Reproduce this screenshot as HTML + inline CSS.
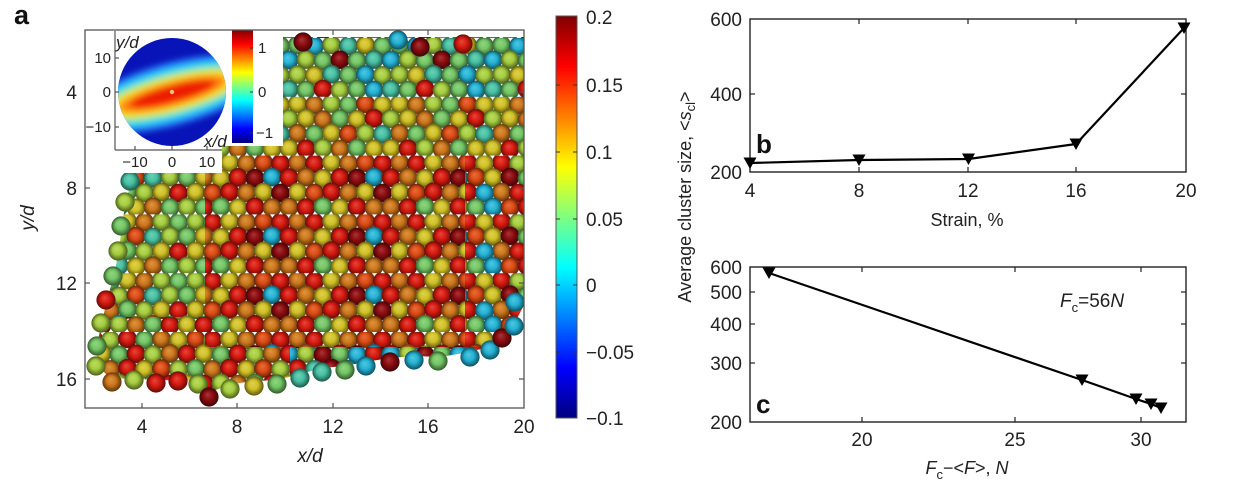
<!DOCTYPE html>
<html><head><meta charset="utf-8">
<style>
html,body{margin:0;padding:0;background:#fff;}
svg{display:block;font-family:"Liberation Sans",Arial,sans-serif;}
</style></head>
<body>
<svg width="1240" height="488" viewBox="0 0 1240 488" xmlns="http://www.w3.org/2000/svg">
<defs>
  <clipPath id="axclip"><rect x="85" y="30" width="439" height="378"/></clipPath>
  <clipPath id="circ"><circle cx="172" cy="92" r="54"/></clipPath>
  <clipPath id="cl"><path d="M130,34 L524,34 L524,305 L512,328 L496,345 L470,352 L440,357 L415,356 L390,358 L365,362 L345,366 L322,368 L300,374 L278,380 L255,381 L232,384 L210,392 L200,381 L160,380 L110,378 L97,365 L97,345 L102,322 L107,300 L114,275 L119,250 L122,225 L126,200 L132,180 Z"/></clipPath>
  <filter id="blur" x="-20%" y="-20%" width="140%" height="140%"><feGaussianBlur stdDeviation="3.5"/></filter>
  <linearGradient id="jetv" x1="0" y1="1" x2="0" y2="0">
    <stop offset="0" stop-color="#000080"/>
    <stop offset="0.125" stop-color="#0000ff"/>
    <stop offset="0.375" stop-color="#00ffff"/>
    <stop offset="0.625" stop-color="#ffff00"/>
    <stop offset="0.875" stop-color="#ff0000"/>
    <stop offset="1" stop-color="#800000"/>
  </linearGradient>
  <radialGradient id="D" cx=".5" cy=".5" r=".5" fx=".42" fy=".36"><stop offset="0" stop-color="rgb(165,55,57)"/><stop offset=".5" stop-color="rgb(140,12,15)"/><stop offset="1" stop-color="rgb(62,5,7)"/></radialGradient>
  <radialGradient id="R" cx=".5" cy=".5" r=".5" fx=".42" fy=".36"><stop offset="0" stop-color="rgb(228,72,62)"/><stop offset=".5" stop-color="rgb(215,26,16)"/><stop offset="1" stop-color="rgb(100,12,8)"/></radialGradient>
  <radialGradient id="E" cx=".5" cy=".5" r=".5" fx=".42" fy=".36"><stop offset="0" stop-color="rgb(230,110,62)"/><stop offset=".5" stop-color="rgb(220,75,20)"/><stop offset="1" stop-color="rgb(100,34,9)"/></radialGradient>
  <radialGradient id="O" cx=".5" cy=".5" r=".5" fx=".42" fy=".36"><stop offset="0" stop-color="rgb(220,150,66)"/><stop offset=".5" stop-color="rgb(205,118,28)"/><stop offset="1" stop-color="rgb(95,54,12)"/></radialGradient>
  <radialGradient id="Y" cx=".5" cy=".5" r=".5" fx=".42" fy=".36"><stop offset="0" stop-color="rgb(222,210,80)"/><stop offset=".5" stop-color="rgb(208,192,38)"/><stop offset="1" stop-color="rgb(95,88,16)"/></radialGradient>
  <radialGradient id="K" cx=".5" cy=".5" r=".5" fx=".42" fy=".36"><stop offset="0" stop-color="rgb(188,220,100)"/><stop offset=".5" stop-color="rgb(165,205,62)"/><stop offset="1" stop-color="rgb(76,94,28)"/></radialGradient>
  <radialGradient id="G" cx=".5" cy=".5" r=".5" fx=".42" fy=".36"><stop offset="0" stop-color="rgb(146,212,132)"/><stop offset=".5" stop-color="rgb(115,198,100)"/><stop offset="1" stop-color="rgb(52,90,45)"/></radialGradient>
  <radialGradient id="T" cx=".5" cy=".5" r=".5" fx=".42" fy=".36"><stop offset="0" stop-color="rgb(110,208,182)"/><stop offset=".5" stop-color="rgb(70,192,162)"/><stop offset="1" stop-color="rgb(32,88,74)"/></radialGradient>
  <radialGradient id="C" cx=".5" cy=".5" r=".5" fx=".42" fy=".36"><stop offset="0" stop-color="rgb(82,198,225)"/><stop offset=".5" stop-color="rgb(35,178,212)"/><stop offset="1" stop-color="rgb(16,80,97)"/></radialGradient>

  <pattern id="pTop" patternUnits="userSpaceOnUse" x="85" y="38" width="102" height="58.8">
    <circle cx="8.5" cy="7" r="9.4" fill="url(#G)"/><circle cx="25.5" cy="8" r="9.4" fill="url(#C)"/><circle cx="42.5" cy="6.8" r="9.4" fill="url(#K)"/><circle cx="59.5" cy="7.8" r="9.4" fill="url(#T)"/><circle cx="76.5" cy="7" r="9.4" fill="url(#Y)"/><circle cx="93.5" cy="8" r="9.4" fill="url(#G)"/>
    <circle cx="0" cy="22" r="9.4" fill="url(#C)"/><circle cx="17" cy="21.5" r="9.4" fill="url(#K)"/><circle cx="34" cy="22.8" r="9.4" fill="url(#G)"/><circle cx="51" cy="21.8" r="9.4" fill="url(#D)"/><circle cx="68" cy="22.6" r="9.4" fill="url(#G)"/><circle cx="85" cy="21.5" r="9.4" fill="url(#T)"/><circle cx="102" cy="22" r="9.4" fill="url(#C)"/>
    <circle cx="8.5" cy="36.5" r="9.4" fill="url(#K)"/><circle cx="25.5" cy="37.4" r="9.4" fill="url(#Y)"/><circle cx="42.5" cy="36.2" r="9.4" fill="url(#T)"/><circle cx="59.5" cy="37.2" r="9.4" fill="url(#G)"/><circle cx="76.5" cy="36.5" r="9.4" fill="url(#C)"/><circle cx="93.5" cy="37.4" r="9.4" fill="url(#K)"/>
    <circle cx="0" cy="51.5" r="9.4" fill="url(#T)"/><circle cx="17" cy="52" r="9.4" fill="url(#G)"/><circle cx="34" cy="51" r="9.4" fill="url(#R)"/><circle cx="51" cy="52.2" r="9.4" fill="url(#K)"/><circle cx="68" cy="51.3" r="9.4" fill="url(#G)"/><circle cx="85" cy="52" r="9.4" fill="url(#C)"/><circle cx="102" cy="51.5" r="9.4" fill="url(#T)"/>
  </pattern>
  <pattern id="pMid" patternUnits="userSpaceOnUse" x="85" y="38" width="102" height="58.8">
    <circle cx="8.5" cy="7" r="9.4" fill="url(#Y)"/><circle cx="25.5" cy="8" r="9.4" fill="url(#O)"/><circle cx="42.5" cy="6.8" r="9.4" fill="url(#K)"/><circle cx="59.5" cy="7.8" r="9.4" fill="url(#G)"/><circle cx="76.5" cy="7" r="9.4" fill="url(#E)"/><circle cx="93.5" cy="8" r="9.4" fill="url(#Y)"/>
    <circle cx="0" cy="22" r="9.4" fill="url(#K)"/><circle cx="17" cy="21.5" r="9.4" fill="url(#Y)"/><circle cx="34" cy="22.8" r="9.4" fill="url(#O)"/><circle cx="51" cy="21.8" r="9.4" fill="url(#G)"/><circle cx="68" cy="22.6" r="9.4" fill="url(#Y)"/><circle cx="85" cy="21.5" r="9.4" fill="url(#R)"/><circle cx="102" cy="22" r="9.4" fill="url(#K)"/>
    <circle cx="8.5" cy="36.5" r="9.4" fill="url(#O)"/><circle cx="25.5" cy="37.4" r="9.4" fill="url(#G)"/><circle cx="42.5" cy="36.2" r="9.4" fill="url(#Y)"/><circle cx="59.5" cy="37.2" r="9.4" fill="url(#E)"/><circle cx="76.5" cy="36.5" r="9.4" fill="url(#K)"/><circle cx="93.5" cy="37.4" r="9.4" fill="url(#T)"/>
    <circle cx="0" cy="51.5" r="9.4" fill="url(#Y)"/><circle cx="17" cy="52" r="9.4" fill="url(#R)"/><circle cx="34" cy="51" r="9.4" fill="url(#K)"/><circle cx="51" cy="52.2" r="9.4" fill="url(#O)"/><circle cx="68" cy="51.3" r="9.4" fill="url(#G)"/><circle cx="85" cy="52" r="9.4" fill="url(#Y)"/><circle cx="102" cy="51.5" r="9.4" fill="url(#Y)"/>
  </pattern>
  <pattern id="pLeft" patternUnits="userSpaceOnUse" x="85" y="38" width="102" height="58.8">
    <circle cx="8.5" cy="7" r="9.4" fill="url(#K)"/><circle cx="25.5" cy="8" r="9.4" fill="url(#G)"/><circle cx="42.5" cy="6.8" r="9.4" fill="url(#Y)"/><circle cx="59.5" cy="7.8" r="9.4" fill="url(#O)"/><circle cx="76.5" cy="7" r="9.4" fill="url(#K)"/><circle cx="93.5" cy="8" r="9.4" fill="url(#G)"/>
    <circle cx="0" cy="22" r="9.4" fill="url(#G)"/><circle cx="17" cy="21.5" r="9.4" fill="url(#Y)"/><circle cx="34" cy="22.8" r="9.4" fill="url(#K)"/><circle cx="51" cy="21.8" r="9.4" fill="url(#E)"/><circle cx="68" cy="22.6" r="9.4" fill="url(#T)"/><circle cx="85" cy="21.5" r="9.4" fill="url(#K)"/><circle cx="102" cy="22" r="9.4" fill="url(#G)"/>
    <circle cx="8.5" cy="36.5" r="9.4" fill="url(#Y)"/><circle cx="25.5" cy="37.4" r="9.4" fill="url(#O)"/><circle cx="42.5" cy="36.2" r="9.4" fill="url(#G)"/><circle cx="59.5" cy="37.2" r="9.4" fill="url(#K)"/><circle cx="76.5" cy="36.5" r="9.4" fill="url(#Y)"/><circle cx="93.5" cy="37.4" r="9.4" fill="url(#R)"/>
    <circle cx="0" cy="51.5" r="9.4" fill="url(#K)"/><circle cx="17" cy="52" r="9.4" fill="url(#G)"/><circle cx="34" cy="51" r="9.4" fill="url(#T)"/><circle cx="51" cy="52.2" r="9.4" fill="url(#Y)"/><circle cx="68" cy="51.3" r="9.4" fill="url(#O)"/><circle cx="85" cy="52" r="9.4" fill="url(#G)"/><circle cx="102" cy="51.5" r="9.4" fill="url(#K)"/>
  </pattern>
  <pattern id="pLbot" patternUnits="userSpaceOnUse" x="85" y="38" width="102" height="58.8">
    <circle cx="8.5" cy="7" r="9.4" fill="url(#E)"/><circle cx="25.5" cy="8" r="9.4" fill="url(#K)"/><circle cx="42.5" cy="6.8" r="9.4" fill="url(#R)"/><circle cx="59.5" cy="7.8" r="9.4" fill="url(#G)"/><circle cx="76.5" cy="7" r="9.4" fill="url(#O)"/><circle cx="93.5" cy="8" r="9.4" fill="url(#Y)"/>
    <circle cx="0" cy="22" r="9.4" fill="url(#R)"/><circle cx="17" cy="21.5" r="9.4" fill="url(#Y)"/><circle cx="34" cy="22.8" r="9.4" fill="url(#G)"/><circle cx="51" cy="21.8" r="9.4" fill="url(#R)"/><circle cx="68" cy="22.6" r="9.4" fill="url(#K)"/><circle cx="85" cy="21.5" r="9.4" fill="url(#O)"/><circle cx="102" cy="22" r="9.4" fill="url(#R)"/>
    <circle cx="8.5" cy="36.5" r="9.4" fill="url(#G)"/><circle cx="25.5" cy="37.4" r="9.4" fill="url(#O)"/><circle cx="42.5" cy="36.2" r="9.4" fill="url(#R)"/><circle cx="59.5" cy="37.2" r="9.4" fill="url(#Y)"/><circle cx="76.5" cy="36.5" r="9.4" fill="url(#E)"/><circle cx="93.5" cy="37.4" r="9.4" fill="url(#K)"/>
    <circle cx="0" cy="51.5" r="9.4" fill="url(#Y)"/><circle cx="17" cy="52" r="9.4" fill="url(#R)"/><circle cx="34" cy="51" r="9.4" fill="url(#K)"/><circle cx="51" cy="52.2" r="9.4" fill="url(#O)"/><circle cx="68" cy="51.3" r="9.4" fill="url(#G)"/><circle cx="85" cy="52" r="9.4" fill="url(#R)"/><circle cx="102" cy="51.5" r="9.4" fill="url(#Y)"/>
  </pattern>
  <pattern id="pCen" patternUnits="userSpaceOnUse" x="85" y="38" width="102" height="58.8">
    <circle cx="8.5" cy="7" r="9.4" fill="url(#O)"/><circle cx="25.5" cy="8" r="9.4" fill="url(#R)"/><circle cx="42.5" cy="6.8" r="9.4" fill="url(#Y)"/><circle cx="59.5" cy="7.8" r="9.4" fill="url(#O)"/><circle cx="76.5" cy="7" r="9.4" fill="url(#E)"/><circle cx="93.5" cy="8" r="9.4" fill="url(#R)"/>
    <circle cx="0" cy="22" r="9.4" fill="url(#R)"/><circle cx="17" cy="21.5" r="9.4" fill="url(#O)"/><circle cx="34" cy="22.8" r="9.4" fill="url(#Y)"/><circle cx="51" cy="21.8" r="9.4" fill="url(#R)"/><circle cx="68" cy="22.6" r="9.4" fill="url(#D)"/><circle cx="85" cy="21.5" r="9.4" fill="url(#C)"/><circle cx="102" cy="22" r="9.4" fill="url(#R)"/>
    <circle cx="8.5" cy="36.5" r="9.4" fill="url(#Y)"/><circle cx="25.5" cy="37.4" r="9.4" fill="url(#E)"/><circle cx="42.5" cy="36.2" r="9.4" fill="url(#R)"/><circle cx="59.5" cy="37.2" r="9.4" fill="url(#O)"/><circle cx="76.5" cy="36.5" r="9.4" fill="url(#Y)"/><circle cx="93.5" cy="37.4" r="9.4" fill="url(#D)"/>
    <circle cx="0" cy="51.5" r="9.4" fill="url(#O)"/><circle cx="17" cy="52" r="9.4" fill="url(#R)"/><circle cx="34" cy="51" r="9.4" fill="url(#G)"/><circle cx="51" cy="52.2" r="9.4" fill="url(#Y)"/><circle cx="68" cy="51.3" r="9.4" fill="url(#R)"/><circle cx="85" cy="52" r="9.4" fill="url(#O)"/><circle cx="102" cy="51.5" r="9.4" fill="url(#O)"/>
  </pattern>
  <pattern id="pRight" patternUnits="userSpaceOnUse" x="85" y="38" width="102" height="58.8">
    <circle cx="8.5" cy="7" r="9.4" fill="url(#R)"/><circle cx="25.5" cy="8" r="9.4" fill="url(#K)"/><circle cx="42.5" cy="6.8" r="9.4" fill="url(#C)"/><circle cx="59.5" cy="7.8" r="9.4" fill="url(#O)"/><circle cx="76.5" cy="7" r="9.4" fill="url(#R)"/><circle cx="93.5" cy="8" r="9.4" fill="url(#Y)"/>
    <circle cx="0" cy="22" r="9.4" fill="url(#Y)"/><circle cx="17" cy="21.5" r="9.4" fill="url(#D)"/><circle cx="34" cy="22.8" r="9.4" fill="url(#G)"/><circle cx="51" cy="21.8" r="9.4" fill="url(#R)"/><circle cx="68" cy="22.6" r="9.4" fill="url(#C)"/><circle cx="85" cy="21.5" r="9.4" fill="url(#E)"/><circle cx="102" cy="22" r="9.4" fill="url(#Y)"/>
    <circle cx="8.5" cy="36.5" r="9.4" fill="url(#O)"/><circle cx="25.5" cy="37.4" r="9.4" fill="url(#R)"/><circle cx="42.5" cy="36.2" r="9.4" fill="url(#Y)"/><circle cx="59.5" cy="37.2" r="9.4" fill="url(#K)"/><circle cx="76.5" cy="36.5" r="9.4" fill="url(#R)"/><circle cx="93.5" cy="37.4" r="9.4" fill="url(#C)"/>
    <circle cx="0" cy="51.5" r="9.4" fill="url(#C)"/><circle cx="17" cy="52" r="9.4" fill="url(#E)"/><circle cx="34" cy="51" r="9.4" fill="url(#R)"/><circle cx="51" cy="52.2" r="9.4" fill="url(#D)"/><circle cx="68" cy="51.3" r="9.4" fill="url(#Y)"/><circle cx="85" cy="52" r="9.4" fill="url(#G)"/><circle cx="102" cy="51.5" r="9.4" fill="url(#C)"/>
  </pattern>
  <pattern id="pBot" patternUnits="userSpaceOnUse" x="85" y="38" width="102" height="58.8">
    <circle cx="8.5" cy="7" r="9.4" fill="url(#D)"/><circle cx="25.5" cy="8" r="9.4" fill="url(#C)"/><circle cx="42.5" cy="6.8" r="9.4" fill="url(#G)"/><circle cx="59.5" cy="7.8" r="9.4" fill="url(#R)"/><circle cx="76.5" cy="7" r="9.4" fill="url(#T)"/><circle cx="93.5" cy="8" r="9.4" fill="url(#D)"/>
    <circle cx="0" cy="22" r="9.4" fill="url(#C)"/><circle cx="17" cy="21.5" r="9.4" fill="url(#K)"/><circle cx="34" cy="22.8" r="9.4" fill="url(#D)"/><circle cx="51" cy="21.8" r="9.4" fill="url(#G)"/><circle cx="68" cy="22.6" r="9.4" fill="url(#C)"/><circle cx="85" cy="21.5" r="9.4" fill="url(#R)"/><circle cx="102" cy="22" r="9.4" fill="url(#C)"/>
    <circle cx="8.5" cy="36.5" r="9.4" fill="url(#R)"/><circle cx="25.5" cy="37.4" r="9.4" fill="url(#T)"/><circle cx="42.5" cy="36.2" r="9.4" fill="url(#D)"/><circle cx="59.5" cy="37.2" r="9.4" fill="url(#C)"/><circle cx="76.5" cy="36.5" r="9.4" fill="url(#K)"/><circle cx="93.5" cy="37.4" r="9.4" fill="url(#E)"/>
    <circle cx="0" cy="51.5" r="9.4" fill="url(#G)"/><circle cx="17" cy="52" r="9.4" fill="url(#D)"/><circle cx="34" cy="51" r="9.4" fill="url(#C)"/><circle cx="51" cy="52.2" r="9.4" fill="url(#R)"/><circle cx="68" cy="51.3" r="9.4" fill="url(#D)"/><circle cx="85" cy="52" r="9.4" fill="url(#T)"/><circle cx="102" cy="51.5" r="9.4" fill="url(#G)"/>
  </pattern>
</defs>
<rect x="0" y="0" width="1240" height="488" fill="#fff"/>

<!-- Panel a spheres -->
<g clip-path="url(#axclip)">
  <g clip-path="url(#cl)">
    <rect x="85" y="37" width="439" height="60" fill="url(#pTop)"/>
    <rect x="85" y="97" width="439" height="59" fill="url(#pMid)"/>
    <rect x="85" y="156" width="120" height="161" fill="url(#pLeft)"/>
    <rect x="85" y="317" width="120" height="101" fill="url(#pLbot)"/>
    <rect x="205" y="156" width="260" height="191" fill="url(#pCen)"/>
    <rect x="465" y="156" width="59" height="191" fill="url(#pRight)"/>
    <rect x="205" y="347" width="85" height="71" fill="url(#pLbot)"/>
    <rect x="290" y="347" width="234" height="71" fill="url(#pBot)"/>
  </g>
  <circle cx="303" cy="42" r="9.6" fill="url(#D)"/>
  <circle cx="398" cy="40" r="9.6" fill="url(#C)"/>
  <circle cx="420" cy="47" r="9.6" fill="url(#D)"/>
  <circle cx="463" cy="44" r="9.6" fill="url(#R)"/>
  <circle cx="130" cy="181" r="9.6" fill="url(#T)"/>
  <circle cx="125" cy="202" r="9.6" fill="url(#K)"/>
  <circle cx="121" cy="226" r="9.6" fill="url(#G)"/>
  <circle cx="118" cy="251" r="9.6" fill="url(#K)"/>
  <circle cx="113" cy="276" r="9.6" fill="url(#G)"/>
  <circle cx="106" cy="300" r="9.6" fill="url(#R)"/>
  <circle cx="101" cy="323" r="9.6" fill="url(#K)"/>
  <circle cx="97" cy="346" r="9.6" fill="url(#G)"/>
  <circle cx="96" cy="366" r="9.6" fill="url(#K)"/>
  <circle cx="112" cy="382" r="9.6" fill="url(#O)"/>
  <circle cx="134" cy="380" r="9.6" fill="url(#K)"/>
  <circle cx="156" cy="383" r="9.6" fill="url(#R)"/>
  <circle cx="178" cy="381" r="9.6" fill="url(#R)"/>
  <circle cx="198" cy="384" r="9.6" fill="url(#K)"/>
  <circle cx="209" cy="397" r="9.6" fill="url(#D)"/>
  <circle cx="230" cy="389" r="9.6" fill="url(#K)"/>
  <circle cx="254" cy="386" r="9.6" fill="url(#Y)"/>
  <circle cx="277" cy="384" r="9.6" fill="url(#G)"/>
  <circle cx="300" cy="378" r="9.6" fill="url(#T)"/>
  <circle cx="322" cy="372" r="9.6" fill="url(#T)"/>
  <circle cx="345" cy="370" r="9.6" fill="url(#G)"/>
  <circle cx="366" cy="366" r="9.6" fill="url(#C)"/>
  <circle cx="390" cy="362" r="9.6" fill="url(#D)"/>
  <circle cx="414" cy="360" r="9.6" fill="url(#C)"/>
  <circle cx="438" cy="361" r="9.6" fill="url(#G)"/>
  <circle cx="470" cy="357" r="9.6" fill="url(#C)"/>
  <circle cx="490" cy="350" r="9.6" fill="url(#C)"/>
  <circle cx="502" cy="338" r="9.6" fill="url(#D)"/>
  <circle cx="514" cy="326" r="9.6" fill="url(#C)"/>
  <circle cx="515" cy="302" r="9.6" fill="url(#C)"/>
</g>

<!-- main axes ticks -->
<g stroke="#555" stroke-width="1.2">
  <line x1="85" y1="92" x2="90" y2="92"/><line x1="85" y1="188" x2="90" y2="188"/>
  <line x1="85" y1="283" x2="90" y2="283"/><line x1="85" y1="379" x2="90" y2="379"/>
  <line x1="524" y1="92" x2="519" y2="92"/><line x1="524" y1="188" x2="519" y2="188"/>
  <line x1="524" y1="283" x2="519" y2="283"/><line x1="524" y1="379" x2="519" y2="379"/>
  <line x1="142" y1="408" x2="142" y2="403"/><line x1="237" y1="408" x2="237" y2="403"/>
  <line x1="333" y1="408" x2="333" y2="403"/><line x1="428" y1="408" x2="428" y2="403"/>
  <line x1="333" y1="30" x2="333" y2="35"/><line x1="428" y1="30" x2="428" y2="35"/>
</g>

<!-- inset -->
<rect x="85" y="30" width="137" height="143" fill="#fff"/>
<rect x="221" y="30" width="62" height="116" fill="#fff"/>
<g clip-path="url(#circ)">
  <rect x="110" y="30" width="130" height="130" fill="#0814b8"/>
  <g filter="url(#blur)" transform="rotate(-15 172 92)">
    <ellipse cx="172" cy="94" rx="95" ry="31" fill="#2a8cff"/>
    <ellipse cx="172" cy="94" rx="88" ry="25" fill="#28dcec"/>
    <ellipse cx="172" cy="94" rx="75" ry="19" fill="#c8f040"/>
    <ellipse cx="172" cy="94" rx="65" ry="15" fill="#ffd020"/>
    <ellipse cx="172" cy="94" rx="55" ry="11.5" fill="#ff7a10"/>
    <ellipse cx="172" cy="94" rx="44" ry="8.5" fill="#ee1a00"/>
  </g>
  <circle cx="172" cy="92" r="2.2" fill="#f0c080"/>
</g>
<g stroke="#555" stroke-width="1.2" fill="none">
  <line x1="115" y1="31" x2="115" y2="150"/>
  <line x1="115" y1="150" x2="222" y2="150"/>
  <line x1="115" y1="58" x2="119" y2="58"/><line x1="115" y1="92" x2="119" y2="92"/><line x1="115" y1="127" x2="119" y2="127"/>
  <line x1="135" y1="150" x2="135" y2="146"/><line x1="172" y1="150" x2="172" y2="146"/><line x1="207" y1="150" x2="207" y2="146"/>
</g>
<rect x="232" y="30" width="21" height="113" fill="url(#jetv)"/>
<g stroke="#333" stroke-width="1"><line x1="253" y1="48" x2="250" y2="48"/><line x1="253" y1="92" x2="250" y2="92"/><line x1="253" y1="133" x2="250" y2="133"/></g>
<g font-size="15" fill="#222">
  <text x="111" y="63" text-anchor="end">10</text>
  <text x="111" y="97" text-anchor="end">0</text>
  <text x="111" y="132" text-anchor="end">−10</text>
  <text x="135" y="167" text-anchor="middle">−10</text>
  <text x="172" y="167" text-anchor="middle">0</text>
  <text x="207" y="167" text-anchor="middle">10</text>
  <text x="258" y="53">1</text>
  <text x="258" y="97">0</text>
  <text x="256" y="138">−1</text>
  <text x="116" y="48" font-style="italic" font-size="17">y/d</text>
  <text x="204" y="147" font-style="italic" font-size="17">x/d</text>
</g>

<!-- main axes box -->
<rect x="85" y="30" width="439" height="378" fill="none" stroke="#555" stroke-width="1.3"/>

<!-- panel a labels -->
<text x="14" y="24" font-size="27" font-weight="bold" fill="#111">a</text>
<g font-size="19" fill="#222">
  <text x="77" y="99" text-anchor="end">4</text>
  <text x="77" y="195" text-anchor="end">8</text>
  <text x="77" y="290" text-anchor="end">12</text>
  <text x="77" y="386" text-anchor="end">16</text>
  <text x="142" y="433" text-anchor="middle">4</text>
  <text x="237" y="433" text-anchor="middle">8</text>
  <text x="333" y="433" text-anchor="middle">12</text>
  <text x="428" y="433" text-anchor="middle">16</text>
  <text x="524" y="433" text-anchor="middle">20</text>
  <text x="310" y="462" text-anchor="middle" font-style="italic">x/d</text>
  <text transform="translate(34,218) rotate(-90)" text-anchor="middle" font-style="italic">y/d</text>
</g>

<!-- main colorbar -->
<rect x="556" y="16" width="21" height="402" fill="url(#jetv)" stroke="#555" stroke-width="1"/>
<g stroke="#333" stroke-width="1">
  <line x1="577" y1="85" x2="573" y2="85"/><line x1="577" y1="152" x2="573" y2="152"/>
  <line x1="577" y1="219" x2="573" y2="219"/><line x1="577" y1="285" x2="573" y2="285"/>
  <line x1="577" y1="352" x2="573" y2="352"/>
  <line x1="556" y1="85" x2="560" y2="85"/><line x1="556" y1="152" x2="560" y2="152"/>
  <line x1="556" y1="219" x2="560" y2="219"/><line x1="556" y1="285" x2="560" y2="285"/>
  <line x1="556" y1="352" x2="560" y2="352"/>
</g>
<g font-size="19" fill="#222">
  <text x="586" y="24">0.2</text>
  <text x="586" y="92">0.15</text>
  <text x="586" y="159">0.1</text>
  <text x="586" y="226">0.05</text>
  <text x="586" y="292">0</text>
  <text x="586" y="359">−0.05</text>
  <text x="586" y="425">−0.1</text>
</g>

<!-- Panel b -->
<rect x="750" y="19" width="436" height="153" fill="none" stroke="#222" stroke-width="1.4"/>
<g stroke="#222" stroke-width="1.2">
  <line x1="859" y1="172" x2="859" y2="167"/><line x1="968" y1="172" x2="968" y2="167"/><line x1="1076" y1="172" x2="1076" y2="167"/>
  <line x1="859" y1="19" x2="859" y2="24"/><line x1="968" y1="19" x2="968" y2="24"/><line x1="1076" y1="19" x2="1076" y2="24"/>
  <line x1="750" y1="94" x2="755" y2="94"/><line x1="1186" y1="94" x2="1181" y2="94"/>
</g>
<polyline points="750,163 859,160 968.5,159 1076,144 1184,28" fill="none" stroke="#000" stroke-width="2.2" stroke-linejoin="round"/>
<g fill="#000">
  <polygon points="743.5,157.5 756.5,157.5 750,169"/>
  <polygon points="852.5,154.5 865.5,154.5 859,166"/>
  <polygon points="962,153.5 975,153.5 968.5,165"/>
  <polygon points="1069.5,138.5 1082.5,138.5 1076,150"/>
  <polygon points="1177.5,22.5 1190.5,22.5 1184,34"/>
</g>
<text x="756" y="153" font-size="26" font-weight="bold" fill="#111">b</text>
<g font-size="19" fill="#222">
  <text x="742" y="26" text-anchor="end">600</text>
  <text x="742" y="101" text-anchor="end">400</text>
  <text x="742" y="179" text-anchor="end">200</text>
  <text x="750" y="197" text-anchor="middle">4</text>
  <text x="859" y="197" text-anchor="middle">8</text>
  <text x="968" y="197" text-anchor="middle">12</text>
  <text x="1076" y="197" text-anchor="middle">16</text>
  <text x="1186" y="197" text-anchor="middle">20</text>
  <text x="967" y="226" text-anchor="middle" font-size="18">Strain, %</text>
</g>

<!-- Panel c -->
<rect x="750" y="267" width="436" height="155" fill="none" stroke="#222" stroke-width="1.4"/>
<g stroke="#222" stroke-width="1.2">
  <line x1="750" y1="292" x2="755" y2="292"/><line x1="750" y1="324" x2="755" y2="324"/><line x1="750" y1="363" x2="755" y2="363"/>
  <line x1="1186" y1="292" x2="1181" y2="292"/><line x1="1186" y1="324" x2="1181" y2="324"/><line x1="1186" y1="363" x2="1181" y2="363"/>
  <line x1="862" y1="422" x2="862" y2="417"/><line x1="1015" y1="422" x2="1015" y2="417"/><line x1="1141" y1="422" x2="1141" y2="417"/>
  <line x1="862" y1="267" x2="862" y2="272"/><line x1="1015" y1="267" x2="1015" y2="272"/><line x1="1141" y1="267" x2="1141" y2="272"/>
</g>
<polyline points="769,273 1082,380 1136,399 1151,404 1161,408" fill="none" stroke="#000" stroke-width="2.2" stroke-linejoin="round"/>
<g fill="#000">
  <polygon points="762.5,267.5 775.5,267.5 769,279"/>
  <polygon points="1075.5,374.5 1088.5,374.5 1082,386"/>
  <polygon points="1129.5,393.5 1142.5,393.5 1136,405"/>
  <polygon points="1144.5,398.5 1157.5,398.5 1151,410"/>
  <polygon points="1154.5,402.5 1167.5,402.5 1161,414"/>
</g>
<text x="756" y="413" font-size="26" font-weight="bold" fill="#111">c</text>
<g font-size="19" fill="#222">
  <text x="742" y="274" text-anchor="end">600</text>
  <text x="742" y="299" text-anchor="end">500</text>
  <text x="742" y="331" text-anchor="end">400</text>
  <text x="742" y="370" text-anchor="end">300</text>
  <text x="742" y="429" text-anchor="end">200</text>
  <text x="862" y="446" text-anchor="middle">20</text>
  <text x="1015" y="446" text-anchor="middle">25</text>
  <text x="1141" y="446" text-anchor="middle">30</text>
  <text x="1060" y="307"><tspan font-style="italic">F</tspan><tspan font-size="13" dy="5">c</tspan><tspan dy="-5">=56</tspan><tspan font-style="italic">N</tspan></text>
  <text x="967" y="474" text-anchor="middle" font-size="18"><tspan font-style="italic">F</tspan><tspan font-size="13" dy="5">c</tspan><tspan dy="-5">−&lt;</tspan><tspan font-style="italic">F</tspan><tspan>&gt;, </tspan><tspan font-style="italic">N</tspan></text>
</g>
<text transform="translate(691,197) rotate(-90)" text-anchor="middle" font-size="18" fill="#222">Average cluster size, &lt;<tspan font-style="italic">s</tspan><tspan font-size="13" dy="4">cl</tspan><tspan dy="-4">&gt;</tspan></text>
</svg>
</body></html>
